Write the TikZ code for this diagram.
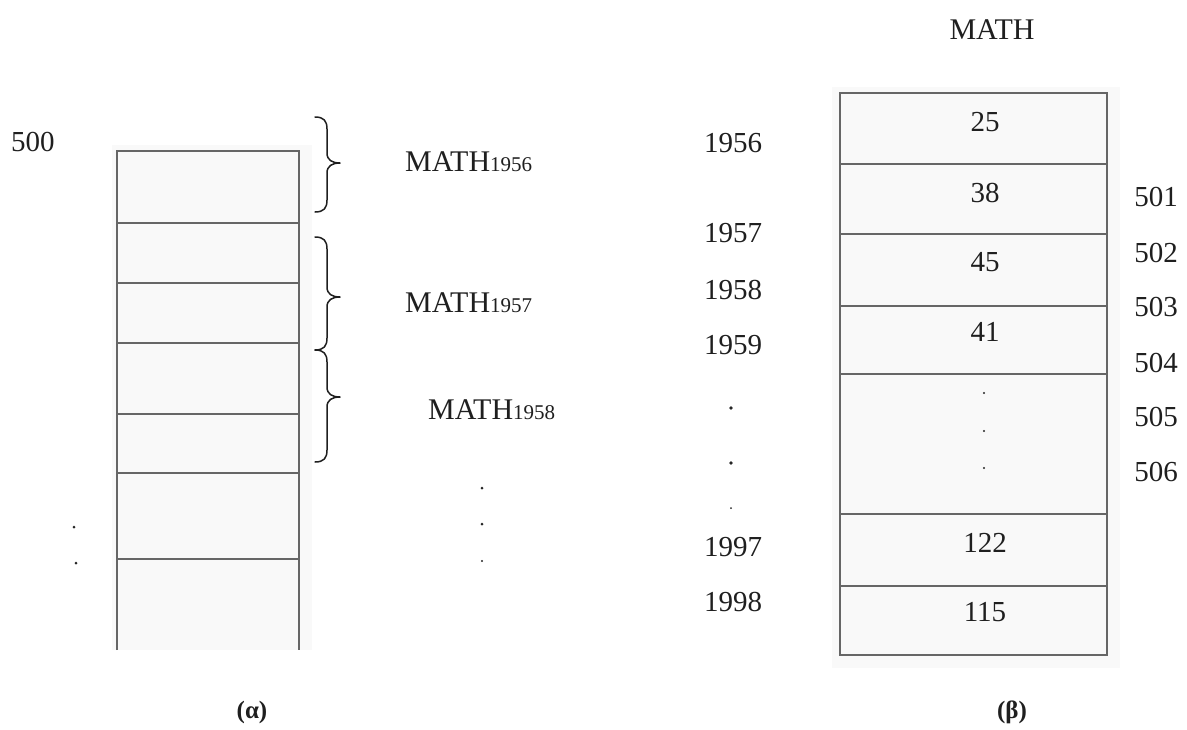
\documentclass[tikz,border=0pt]{standalone}
\usepackage{fontspec}
\setmainfont{Liberation Serif}

\begin{document}
\begin{tikzpicture}[x=1pt,y=-1pt,
  cellline/.style={draw=black!60,line width=1.1pt},
  shade/.style={fill=black!2.5},
  num/.style={inner sep=0pt,text=black!88,font=\fontsize{29}{29}\selectfont},
  mathlbl/.style={inner sep=0pt,anchor=west,text=black!88,font=\fontsize{30}{30}\selectfont},
  caplbl/.style={inner sep=0pt,text=black!88,font=\fontsize{25}{25}\selectfont\bfseries},
  bracestyle/.style={draw=black!88,line width=1.5pt,line cap=round,line join=round},
  dotmark/.style={circle,fill=black!85,inner sep=0pt,minimum size=#1},
  dotmark/.default=3pt
]
\newcommand{\yr}[1]{{\fontsize{21}{21}\selectfont #1}}
% curly brace: spine at x=327, hooks reach x=315, tip at x=340
% #1 top, #2 tip height, #3 bottom
\newcommand{\recbrace}[3]{%
  \draw[bracestyle] (315,#1) .. controls (324,#1) and (327,#1+4) .. (327,#1+12)
    -- (327,#2-10) .. controls (327,#2-3) and (332,#2) .. (340,#2)
    .. controls (332,#2) and (327,#2+3) .. (327,#2+10)
    -- (327,#3-12) .. controls (327,#3-4) and (324,#3) .. (315,#3);}
\useasboundingbox (0,0) rectangle (1187,729);

% ---------- column (a): memory cells, open at the bottom ----------
\fill[shade] (112,145) rectangle (312,650);
\draw[cellline] (117,650) -- (117,151) -- (299,151) -- (299,650);
\foreach \yy in {223,283,343,414,473,559}
  \draw[cellline] (117,\yy) -- (299,\yy);

\node[num] (a500) at (33,142) {500};
\node[dotmark=3pt] (ad1) at (74,527) {};
\node[dotmark=3pt] (ad2) at (76,563) {};

% braces grouping the cells into records
\recbrace{117}{163}{212}
\recbrace{237}{297}{350}
\recbrace{350}{397}{462}

\node[mathlbl] (m56) at (405,162) {MATH\yr{1956}};
\node[mathlbl] (m57) at (405,303) {MATH\yr{1957}};
\node[mathlbl] (m58) at (428,410) {MATH\yr{1958}};

\node[dotmark=3pt] (md1) at (482,488) {};
\node[dotmark=3pt] (md2) at (482,524) {};
\node[dotmark=2.4pt] (md3) at (482,561) {};

\node[caplbl] (capa) at (252,712) {(α)};

% ---------- column (b): the MATH array ----------
\node[mathlbl,anchor=center] (mtop) at (992,30) {MATH};

\fill[shade] (832,87) rectangle (1120,668);
\draw[cellline] (840,93) rectangle (1107,655);
\foreach \yy in {164,234,306,374,514,586}
  \draw[cellline] (840,\yy) -- (1107,\yy);

\node[num] (v25)  at (985,122) {25};
\node[num] (v38)  at (985,193) {38};
\node[num] (v45)  at (985,262) {45};
\node[num] (v41)  at (985,332) {41};
\node[dotmark=2.4pt] (vd1) at (984,393) {};
\node[dotmark=2.4pt] (vd2) at (984,431) {};
\node[dotmark=2.4pt] (vd3) at (984,468) {};
\node[num] (v122) at (985,543) {122};
\node[num] (v115) at (985,612) {115};

% index labels on the left
\node[num] (y56) at (733,143) {1956};
\node[num] (y57) at (733,233) {1957};
\node[num] (y58) at (733,290) {1958};
\node[num] (y59) at (733,345) {1959};
\node[dotmark=3.6pt] (yd1) at (731,408) {};
\node[dotmark=3.6pt] (yd2) at (731,463) {};
\node[dotmark=2pt] (yd3) at (731,508) {};
\node[num] (y97) at (733,547) {1997};
\node[num] (y98) at (733,602) {1998};

% addresses on the right
\node[num] (r501) at (1156,197) {501};
\node[num] (r502) at (1156,253) {502};
\node[num] (r503) at (1156,307) {503};
\node[num] (r504) at (1156,363) {504};
\node[num] (r505) at (1156,417) {505};
\node[num] (r506) at (1156,472) {506};

\node[caplbl] (capb) at (1012,712) {(β)};
\end{tikzpicture}
\end{document}
